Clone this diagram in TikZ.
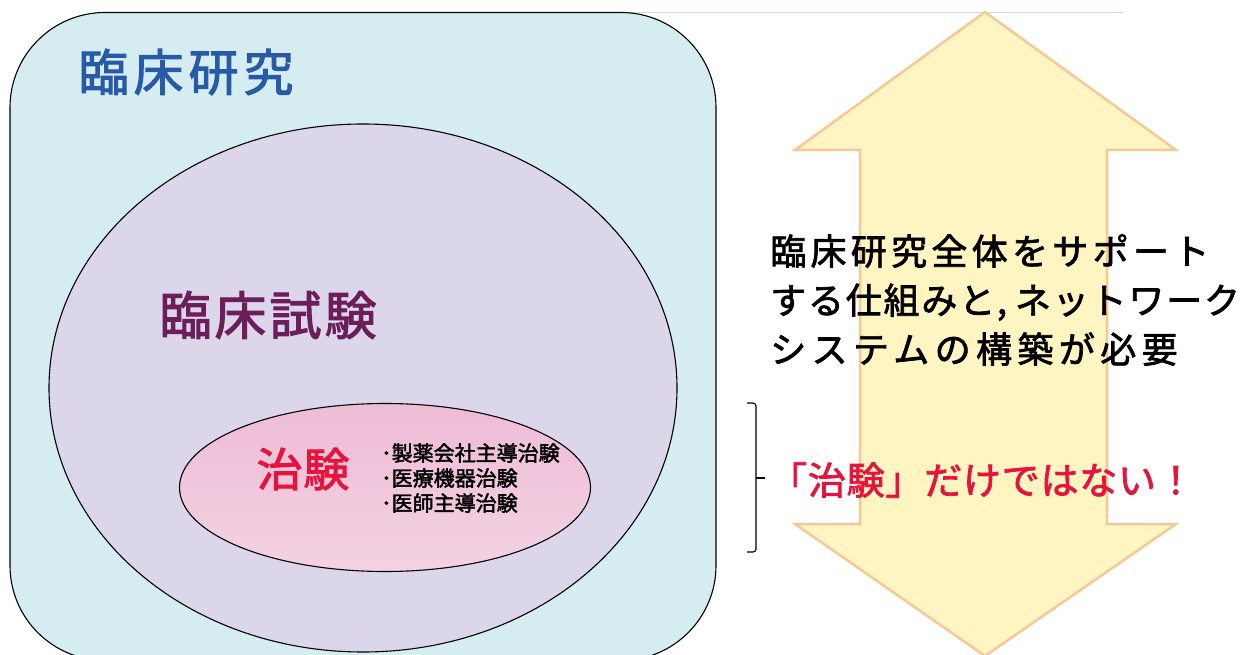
\documentclass[tikz,border=0pt]{standalone}
\usepackage{fontspec}
\setmainfont{Noto Sans CJK JP}[FakeBold=2]
\usetikzlibrary{shapes.geometric}
\definecolor{researchfill}{HTML}{D5EDF1}
\definecolor{trialfill}{HTML}{DBD6EA}
\definecolor{chikentop}{HTML}{EEBCD6}
\definecolor{chikenbot}{HTML}{F3D2E2}
\definecolor{titleblue}{HTML}{285AA5}
\definecolor{trialpurple}{HTML}{6B1E5A}
\definecolor{alertred}{HTML}{E6143C}
\definecolor{arrowfill}{HTML}{FEF5C2}
\definecolor{arrowedge}{HTML}{F6C896}
\definecolor{topline}{HTML}{BFDDE8}
\tikzset{
  fs/.style={font=\fontsize{#1}{#1}\selectfont},
  outline/.style={draw=black, line width=1.1pt},
  label/.style={inner sep=0pt, anchor=west}
}
\begin{document}
\begin{tikzpicture}[x=1pt,y=-1pt]
\useasboundingbox (0,0) rectangle (1247,655);
\begin{scope}
\clip (0,0) rectangle (1247,655);
% faint top line
\draw[topline, line width=1.2pt] (600,12.5) -- (1123,12.5);
% outer rounded rectangle
\node[outline, fill=researchfill, rounded corners=95pt, minimum width=706pt, minimum height=648pt, inner sep=0pt] (research) at (363,336.5) {};
% big ellipse
\node[outline, fill=trialfill, ellipse, minimum width=628pt, minimum height=528pt, inner sep=0pt] (trial) at (363,388) {};
% small ellipse
\node[outline, ellipse, top color=chikentop, bottom color=chikenbot, minimum width=411pt, minimum height=168pt, inner sep=0pt] (chiken) at (385,487.5) {};
% double arrow
\draw[arrowedge, fill=arrowfill, line width=2.5pt, line join=miter]
  (985,12) -- (1176,150) -- (1107,150) -- (1107,524) -- (1176,524) -- (985,656)
  -- (795,524) -- (860,524) -- (860,150) -- (795,150) -- cycle;
\end{scope}
% texts
\node[fs=50, text=titleblue, inner sep=0pt] (researchlabel) at (186,72) {\addfontfeature{LetterSpace=10}臨床研究};
\node[fs=52, text=trialpurple, inner sep=0pt] (triallabel) at (268,315) {\addfontfeature{LetterSpace=6}臨床試験};
\node[fs=46, text=alertred, inner sep=0pt] (chikenlabel) at (303,469) {\addfontfeature{LetterSpace=2}治験};
\node[label, align=left, font=\fontsize{21}{25}\selectfont] (kinds) at (381,478) {･製薬会社主導治験\\･医療機器治験\\･医師主導治験};
\node[label, align=left, font=\fontsize{36}{49}\selectfont] (support) at (770,300)
  {{\addfontfeature{LetterSpace=12}臨床研究全体をサポート}\\
   {\addfontfeature{LetterSpace=5}する仕組みと,\hspace{8pt}ネットワーク}\\
   {\addfontfeature{LetterSpace=15}システムの構築が必要}};
\node[label, font=\fontsize{38}{38}\selectfont\addfontfeature{LetterSpace=2}, text=alertred] (notonly) at (769,480) {「治験」だけではない！};
% bracket
\draw[line width=1.1pt, rounded corners=3pt] (747,403) -- (756,403) -- (756,552) -- (747,552);
\coordinate (bracetip) at (765,478);
\draw[line width=1.1pt] (756,478) -- (bracetip);
\end{tikzpicture}
\end{document}
